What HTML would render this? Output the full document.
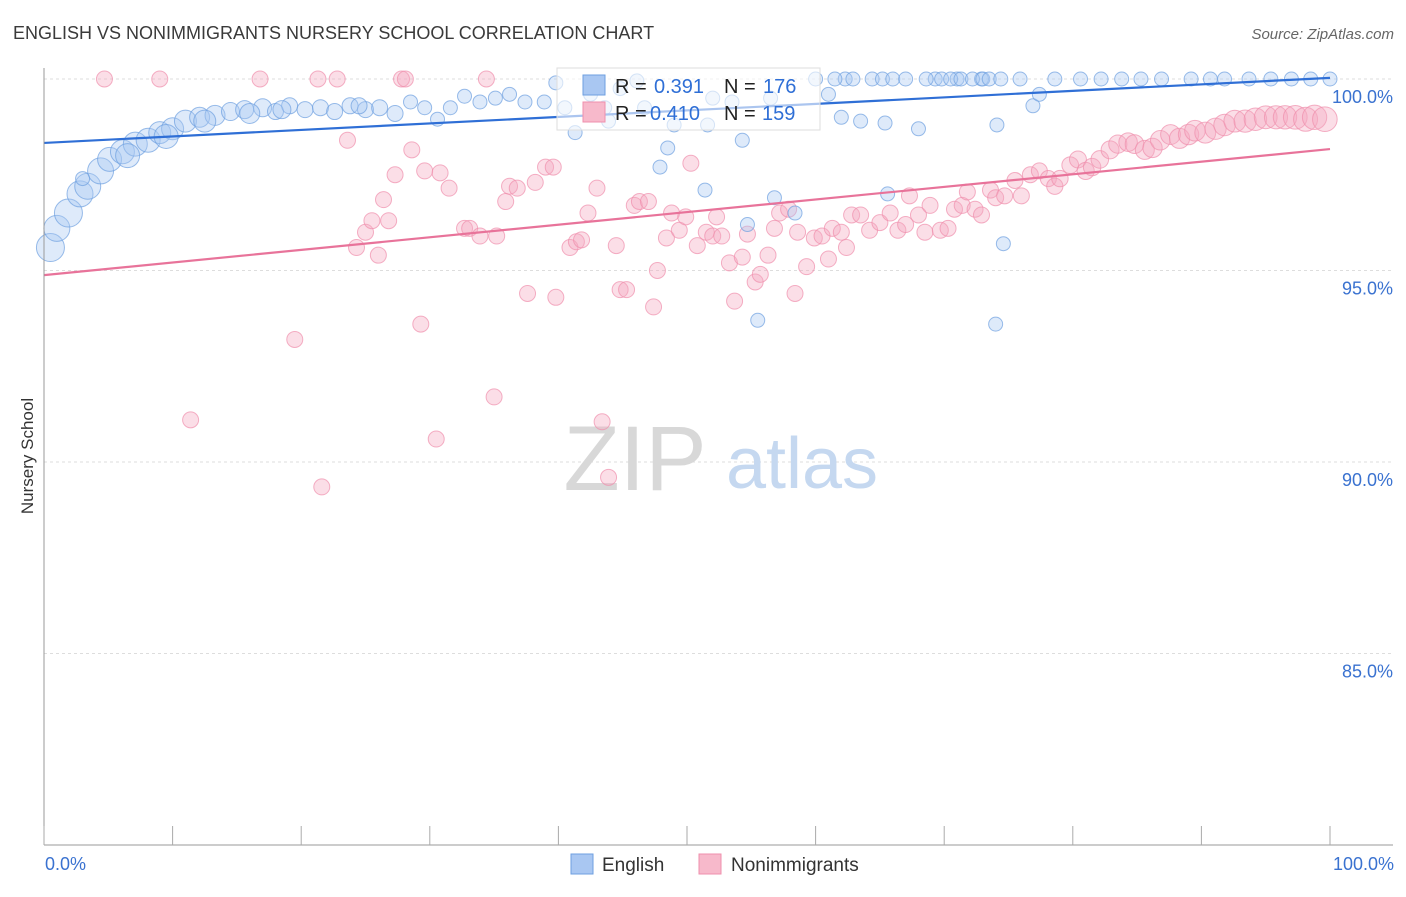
<!DOCTYPE html>
<html><head><meta charset="utf-8">
<style>
body{margin:0;background:#fff;font-family:"Liberation Sans",sans-serif;}
svg text{font-family:"Liberation Sans",sans-serif;}
</style></head>
<body>
<svg id="chart" width="1406" height="892" viewBox="0 0 1406 892" xmlns="http://www.w3.org/2000/svg">
<text x="13" y="39" font-size="18" fill="#3a3a3a">ENGLISH VS NONIMMIGRANTS NURSERY SCHOOL CORRELATION CHART</text>
<text x="1394" y="39" font-size="15" fill="#666" text-anchor="end" font-style="italic">Source: ZipAtlas.com</text>
<text transform="translate(33,456) rotate(-90)" font-size="17" fill="#333" text-anchor="middle">Nursery School</text>
<g id="grid"></g>
<g>
<text x="635" y="490" font-size="92" fill="#d8d8d8" font-family="Liberation Serif,serif" text-anchor="middle">ZIP</text>
<text x="802" y="488" font-size="72" fill="#c5d8f0" text-anchor="middle">atlas</text>
</g>
<g id="marks"></g>
<g id="lines"></g>
<line x1="44" y1="845" x2="1393" y2="845" stroke="#999" stroke-width="1"/>
<line x1="44" y1="68" x2="44" y2="845" stroke="#999" stroke-width="1"/>
<g id="xticks"></g>
<text x="45" y="870" font-size="18" fill="#3a72d0">0.0%</text>
<text x="1394" y="870" font-size="18" fill="#3a72d0" text-anchor="end">100.0%</text>
<g>
<rect x="557" y="68" width="263" height="62" fill="#fff" fill-opacity="0.6" stroke="#ddd"/>
<rect x="583" y="75" width="22" height="20" fill="#a9c7f2" stroke="#6e9fe0"/>
<rect x="583" y="102" width="22" height="20" fill="#f7b9cb" stroke="#ef8fac"/>
<text x="615" y="93" font-size="20" fill="#222">R =</text>
<text x="654" y="93" font-size="20" fill="#2f6fd6">0.391</text>
<text x="724" y="93" font-size="20" fill="#222">N =</text>
<text x="763" y="93" font-size="20" fill="#2f6fd6">176</text>
<text x="615" y="120" font-size="20" fill="#222">R =</text>
<text x="650" y="120" font-size="20" fill="#2f6fd6">0.410</text>
<text x="724" y="120" font-size="20" fill="#222">N =</text>
<text x="762" y="120" font-size="20" fill="#2f6fd6">159</text>
</g>
<g>
<rect x="571" y="854" width="22" height="20" fill="#a9c7f2" stroke="#6e9fe0"/>
<text x="602" y="871" font-size="19" fill="#333">English</text>
</g>
<g>
<rect x="699" y="854" width="22" height="20" fill="#f7b9cb" stroke="#ef8fac"/>
<text x="731" y="871" font-size="19" fill="#333">Nonimmigrants</text>
</g>
</svg>
<script>
const yTicks=[100,95,90,85];
const yTickLabels=["100.0%","95.0%","90.0%","85.0%"];
const xTicks=[0,10,20,30,40,50,60,70,80,90,100];
const englishX=[0.5,1.0,1.9,2.8,3.4,4.4,5.1,6.1,7.1,8.1,9.0,10.0,11.0,12.1,13.3,14.5,15.6,17.0,18.0,19.1,20.3,21.5,22.6,23.8,25.0,26.1,27.3,28.5,29.6,30.6,31.6,32.7,33.9,35.1,36.2,37.4,38.9,39.8,40.5,41.3,42.5,43.6,43.9,44.8,46.1,46.7,47.9,48.5,49.0,51.4,51.6,54.3,54.7,55.5,56.8,58.4,60.0,61.0,62.3,62.0,63.5,65.4,65.6,68.0,69.3,71.0,72.9,74.1,74.6,74.0,75.9,76.9,77.4,78.6,80.6,82.2,83.8,85.3,86.9,89.2,90.7,91.8,93.7,95.4,97.0,98.5,100,61.5,62.9,64.4,65.2,66.0,67.0,68.6,69.8,70.5,71.3,72.2,73.0,73.5,74.4,52.0,53.5,56.5,3.0,6.5,9.5,12.5,16.0,18.5,24.5];
const englishY=[95.6,96.1,96.5,97.0,97.2,97.6,97.9,98.1,98.3,98.4,98.6,98.7,98.9,99.0,99.05,99.15,99.2,99.25,99.15,99.3,99.2,99.25,99.15,99.3,99.2,99.25,99.1,99.4,99.25,98.95,99.25,99.55,99.4,99.5,99.6,99.4,99.4,99.9,99.25,98.6,99.6,99.25,98.9,99.75,99.95,99.25,97.7,98.2,98.8,97.1,98.8,98.4,96.2,93.7,96.9,96.5,100,99.6,100,99.0,98.9,98.85,97.0,98.7,100,100,100,98.8,95.7,93.6,100,99.3,99.6,100,100,100,100,100,100,100,100,100,100,100,100,100,100,100,100,100,100,100,100,100,100,100,100,100,100,100,100,99.5,99.4,99.5,97.4,98.0,98.5,98.9,99.1,99.2,99.3];
const englishR=[14,13,14,13,13,13,12,12,12,12,11,11,11,10,10,9,9,9,8,8,8,8,8,8,8,8,8,7,7,7,7,7,7,7,7,7,7,7,7,7,7,7,7,7,7,7,7,7,7,7,7,7,7,7,7,7,7,7,7,7,7,7,7,7,7,7,7,7,7,7,7,7,7,7,7,7,7,7,7,7,7,7,7,7,7,7,7,7,7,7,7,7,7,7,7,7,7,7,7,7,7,7,7,7,7,12,12,11,10,9,8,8];
const nonimX=[4.7,9.0,16.8,21.3,22.8,27.8,28.1,34.4,23.6,19.5,11.4,21.6,30.5,35.0,29.3,43.4,43.9,24.3,25.0,25.5,26.0,26.4,26.8,27.3,28.6,29.6,30.8,31.5,32.7,33.1,33.9,35.2,35.9,36.2,36.8,37.6,38.2,39.0,39.6,39.8,40.9,41.4,41.8,42.3,43.0,44.5,44.8,45.3,45.9,46.3,47.0,47.4,47.7,48.4,48.8,49.4,49.9,50.3,50.8,51.5,52.0,52.3,52.7,53.3,53.7,54.3,54.7,55.3,55.7,56.3,56.8,57.2,57.9,58.4,58.6,59.3,59.9,60.5,61.0,61.3,62.0,62.4,62.8,63.5,64.2,65.0,65.8,66.4,67.0,67.3,68.0,68.5,68.9,69.7,70.3,70.8,71.4,71.8,72.4,72.9,73.6,74.0,74.7,75.5,76.0,76.7,77.4,78.1,78.6,79.0,79.8,80.4,81.0,81.5,82.1,82.9,83.5,84.3,84.8,85.6,86.2,86.8,87.6,88.3,89.0,89.5,90.3,91.1,91.8,92.6,93.4,94.2,95.0,95.8,96.5,97.3,98.1,98.8,99.6];
const nonimY=[100,100,100,100,100,100,100,100,98.4,93.2,91.1,89.35,90.6,91.7,93.6,91.05,89.6,95.6,96.0,96.3,95.4,96.85,96.3,97.5,98.15,97.6,97.55,97.15,96.1,96.1,95.9,95.9,96.8,97.2,97.15,94.4,97.3,97.7,97.7,94.3,95.6,95.75,95.8,96.5,97.15,95.65,94.5,94.5,96.7,96.8,96.8,94.05,95.0,95.85,96.5,96.05,96.4,97.8,95.65,96.0,95.9,96.4,95.9,95.2,94.2,95.35,95.95,94.7,94.9,95.4,96.1,96.5,96.6,94.4,96.0,95.1,95.85,95.9,95.3,96.1,96.0,95.6,96.45,96.45,96.05,96.25,96.5,96.05,96.2,96.95,96.45,96.0,96.7,96.05,96.1,96.6,96.7,97.05,96.6,96.45,97.1,96.9,96.95,97.35,96.95,97.5,97.6,97.4,97.2,97.4,97.75,97.9,97.6,97.7,97.9,98.15,98.3,98.35,98.3,98.15,98.2,98.4,98.55,98.45,98.55,98.65,98.6,98.7,98.8,98.9,98.9,98.95,99.0,99.0,99.0,99.0,98.95,99.0,98.95];
const englishFit=[98.33,100.03];
const nonimFit=[94.88,98.17];

const svg=document.getElementById('chart');
const NS='http://www.w3.org/2000/svg';
function X(v){return 44+v*12.86;}
function Y(v){return 79+(100-v)*38.3;}
const grid=document.getElementById('grid');
yTicks.forEach((t,i)=>{
  const l=document.createElementNS(NS,'line');
  
  
  l.setAttribute('x1',44);l.setAttribute('x2',1393);
  l.setAttribute('y1',Y(t));l.setAttribute('y2',Y(t));
  l.setAttribute('stroke','#ddd');l.setAttribute('stroke-dasharray','3,3');
  grid.appendChild(l);
  const tx=document.createElementNS(NS,'text');
  
  
  tx.setAttribute('x',1393);tx.setAttribute('y',Y(t)+24);
  tx.setAttribute('text-anchor','end');tx.setAttribute('font-size','18');tx.setAttribute('fill','#3a72d0');
  tx.textContent=yTickLabels[i];
  grid.appendChild(tx);
});
const xt=document.getElementById('xticks');
xTicks.forEach(t=>{
  const l=document.createElementNS(NS,'line');
  
  
  l.setAttribute('x1',X(t));l.setAttribute('x2',X(t));
  l.setAttribute('y1',826);l.setAttribute('y2',845);
  l.setAttribute('stroke','#aaa');
  xt.appendChild(l);
});
const marks=document.getElementById('marks');
function pts(xs,ys,rs,fill,stroke,name,defR){
  for(let i=0;i<xs.length;i++){
    const c=document.createElementNS(NS,'circle');
    
    
    c.setAttribute('cx',X(xs[i]));c.setAttribute('cy',Y(ys[i]));
    c.setAttribute('r',rs?rs[i]:defR(i));
    c.setAttribute('fill',fill);c.setAttribute('fill-opacity','0.38');
    c.setAttribute('stroke',stroke);c.setAttribute('stroke-opacity','0.7');
    marks.appendChild(c);
  }
}
pts(nonimX,nonimY,null,'#f5a9c0','#ef8fac','nonimmigrants-point',i=>nonimX[i]>78?8+(nonimX[i]-78)/5:8);
pts(englishX,englishY,englishR,'#a9c7f2','#6e9fe0','english-point');
const lines=document.getElementById('lines');
function fit(f,color,name){
  const l=document.createElementNS(NS,'line');
  
  
  l.setAttribute('x1',X(0));l.setAttribute('x2',X(100));
  l.setAttribute('y1',Y(f[0]));l.setAttribute('y2',Y(f[1]));
  l.setAttribute('stroke',color);l.setAttribute('stroke-width','2.2');
  lines.appendChild(l);
}
fit(englishFit,'#2f6fd6','english-trend-line');
fit(nonimFit,'#e8739a','nonimmigrants-trend-line');
</script>
</body></html>
